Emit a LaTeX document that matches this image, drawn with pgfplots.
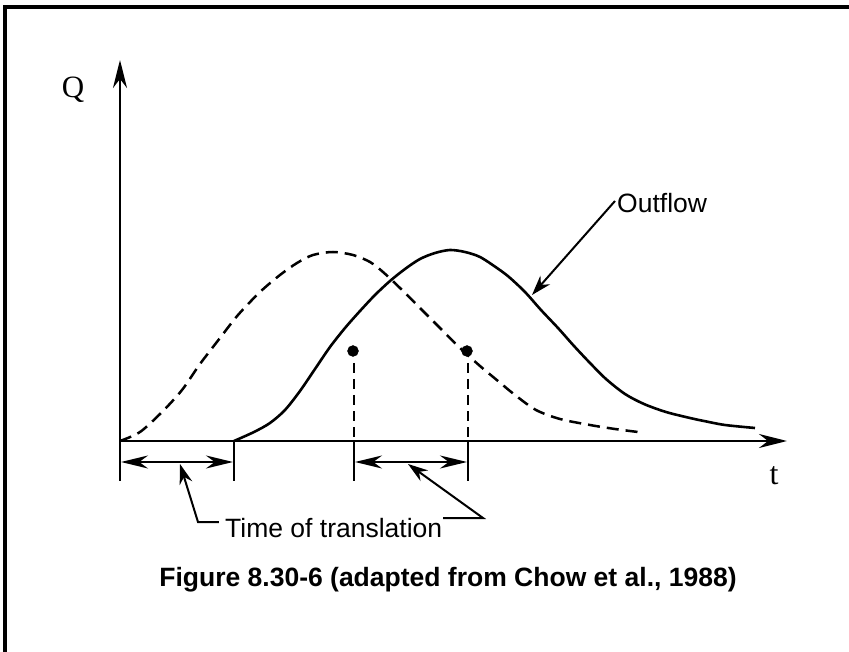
\documentclass[border=0pt]{standalone}
\usepackage{pgfplots}
\pgfplotsset{compat=1.18}
\usetikzlibrary{arrows.meta}
\usepackage{fontspec}
\setmainfont{Liberation Serif}
\newfontfamily\arial{Liberation Sans}
\begin{document}
\begin{tikzpicture}
\begin{axis}[
  x=1bp, y=1bp,
  xmin=0, xmax=667, ymin=0, ymax=381,
  axis x line=bottom, axis y line=left,
  axis line style={line width=2.8bp,-{Stealth[length=28bp,width=14bp]}},
  ticks=none, clip=false,
  anchor=origin, at={(0,0)},
]
% inflow (dashed)
\addplot[black, line width=2.5bp, dash pattern=on 12bp off 7bp, smooth, tension=0.5] coordinates {
(0,0) (20,9) (42,29) (62,51) (80,77) (100,103) (118,126) (140,149) (160,166)
(177,178) (193,186) (213,189) (233,186) (250,179) (263,169) (280,153) (300,133)
(320,113) (340,93) (360,75) (378,60) (395,46) (416,31) (440,22) (470,16) (495,12) (518,9)};
% outflow (solid)
\addplot[black, line width=2.6bp, smooth, tension=0.5] coordinates {
(114,0) (134,9) (150,18) (165,31) (180,50) (195,72) (210,94) (225,113) (240,130)
(255,146) (270,160) (285,172) (300,182) (315,188) (330,191) (345,189) (360,184)
(377,173) (389,164) (405,149) (421,131)
(438,113) (454,95) (470,78) (486,62) (505,47) (524,37) (546,29) (570,23) (584,20)
(605,16) (635,13)};
% centroids
\addplot[only marks, mark=*, mark size=5.5bp, black] coordinates {(233,90) (347,90)};
% dashed drop lines
\addplot[black, line width=2.2bp, dash pattern=on 10bp off 6bp] coordinates {(234,78) (234,0)};
\addplot[black, line width=2.2bp, dash pattern=on 10bp off 6bp] coordinates {(348,78) (348,0)};
% solid ticks below axis
\addplot[black, line width=2.5bp] coordinates {(0,0) (0,-40)};
\addplot[black, line width=2.5bp] coordinates {(114,0) (114,-40)};
\addplot[black, line width=2.5bp] coordinates {(234,0) (234,-40)};
\addplot[black, line width=2.5bp] coordinates {(348,0) (348,-40)};
% double arrows
\draw[line width=2.5bp, {Stealth[length=27bp,width=13bp]}-{Stealth[length=27bp,width=13bp]}] (axis cs:1,-21) -- (axis cs:113,-21);
\draw[line width=2.5bp, {Stealth[length=27bp,width=13bp]}-{Stealth[length=27bp,width=13bp]}] (axis cs:235,-21) -- (axis cs:347,-21);
% leaders
\draw[line width=2bp, -{Stealth[length=20bp,width=13bp]}] (axis cs:99,-81) -- (axis cs:78,-81) -- (axis cs:60,-23);
\draw[line width=2bp, -{Stealth[length=20bp,width=13bp]}] (axis cs:323,-77) -- (axis cs:363,-77) -- (axis cs:288,-23);
\draw[line width=2bp, -{Stealth[length=20bp,width=13bp]}] (axis cs:495,240) -- (axis cs:412,146);
% labels
\node[font=\fontsize{31bp}{34bp}\selectfont, inner sep=0] at (axis cs:-47,351) {Q};
\node[font=\fontsize{32bp}{34bp}\selectfont, inner sep=0] at (axis cs:654,-35) {t};
\node[font=\arial\fontsize{26.5bp}{30bp}\selectfont, inner sep=0, anchor=base west] at (axis cs:497,228) {Outflow};
\node[font=\arial\fontsize{26.5bp}{30bp}\selectfont, inner sep=0, anchor=base west] at (axis cs:105,-96) {Time of translation};
\node[font=\arial\bfseries\fontsize{26.5bp}{30bp}\selectfont, inner sep=0, anchor=base] at (axis cs:328,-145) {Figure 8.30-6 (adapted from Chow et al., 1988)};
% frame
\draw[line width=3.3bp] (axis cs:-115,-211) -- (axis cs:-115,434) -- (axis cs:729,434);
\coordinate (BL) at (axis cs:-120,-211);
\coordinate (TR) at (axis cs:729,441);
\end{axis}
\pgfresetboundingbox
\path[use as bounding box] (BL) rectangle (TR);
\end{tikzpicture}
\end{document}
